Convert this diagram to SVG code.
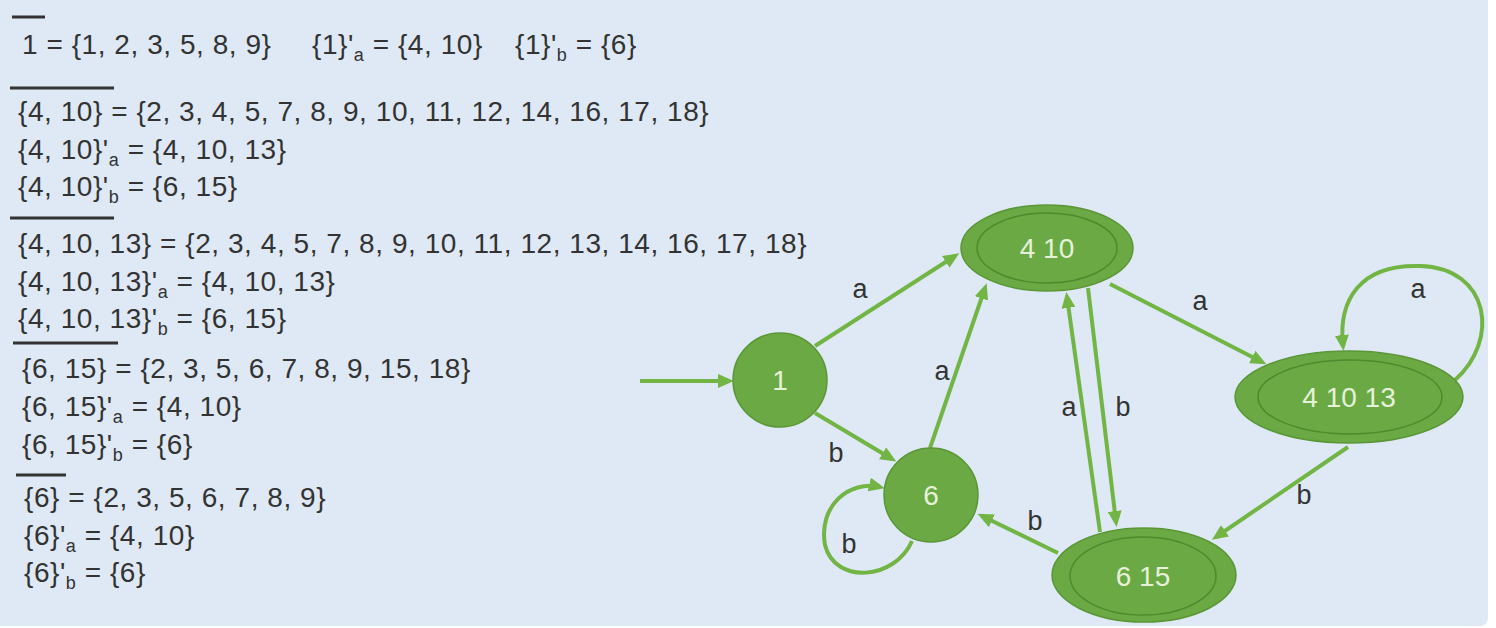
<svg xmlns="http://www.w3.org/2000/svg" width="1496" height="628" viewBox="0 0 1496 628">
  <style>
    .eq { font-family: "Liberation Sans", Arial, sans-serif; font-size: 28px; fill: #333; letter-spacing: 0.55px; }
    .sub { font-size: 18px; }
    .bar { stroke: #333; stroke-width: 3; }
    .node { fill: #6aa944; stroke: #5b9636; stroke-width: 1.5; }
    .inner { fill: none; stroke: #4f8a2e; stroke-width: 1.5; }
    .nlabel { font-family: "Liberation Sans", Arial, sans-serif; font-size: 28px; fill: #e6f1da; text-anchor: middle; }
    .edge { fill: none; stroke: #72b545; stroke-width: 4; marker-end: url(#arrow); }
    .elabel { font-family: "Liberation Sans", Arial, sans-serif; font-size: 27px; fill: #333; text-anchor: middle; }
  </style>
  <defs>
    <marker id="arrow" markerUnits="userSpaceOnUse" viewBox="0 0 16 14" markerWidth="16" markerHeight="14" refX="11" refY="7" orient="auto">
      <path d="M0,0 L16,7 L0,14 z" fill="#72b545"/>
    </marker>
  </defs>

  <!-- page -->
  <rect x="0" y="0" width="1496" height="628" fill="#ffffff"/>
  <rect x="-10" y="-10" width="1498" height="636" rx="8" fill="#dee9f5"/>

  <!-- closure computations -->
  <g id="equations">
    <line class="bar" x1="12" y1="17" x2="45" y2="17"/>
    <text class="eq" x="22" y="54">1 = {1, 2, 3, 5, 8, 9}</text>
    <text class="eq" x="312" y="54">{1}'<tspan class="sub" dy="7">a</tspan><tspan dy="-7"> = {4, 10}</tspan></text>
    <text class="eq" x="515" y="54">{1}'<tspan class="sub" dy="7">b</tspan><tspan dy="-7"> = {6}</tspan></text>

    <line class="bar" x1="10" y1="88" x2="114" y2="88"/>
    <text class="eq" x="18" y="121">{4, 10} = {2, 3, 4, 5, 7, 8, 9, 10, 11, 12, 14, 16, 17, 18}</text>
    <text class="eq" x="18" y="159">{4, 10}'<tspan class="sub" dy="7">a</tspan><tspan dy="-7"> = {4, 10, 13}</tspan></text>
    <text class="eq" x="18" y="196">{4, 10}'<tspan class="sub" dy="7">b</tspan><tspan dy="-7"> = {6, 15}</tspan></text>

    <line class="bar" x1="10" y1="218" x2="114" y2="218"/>
    <text class="eq" x="18" y="253">{4, 10, 13} = {2, 3, 4, 5, 7, 8, 9, 10, 11, 12, 13, 14, 16, 17, 18}</text>
    <text class="eq" x="18" y="291">{4, 10, 13}'<tspan class="sub" dy="7">a</tspan><tspan dy="-7"> = {4, 10, 13}</tspan></text>
    <text class="eq" x="18" y="328">{4, 10, 13}'<tspan class="sub" dy="7">b</tspan><tspan dy="-7"> = {6, 15}</tspan></text>

    <line class="bar" x1="13" y1="343" x2="118" y2="343"/>
    <text class="eq" x="22" y="378">{6, 15} = {2, 3, 5, 6, 7, 8, 9, 15, 18}</text>
    <text class="eq" x="22" y="416">{6, 15}'<tspan class="sub" dy="7">a</tspan><tspan dy="-7"> = {4, 10}</tspan></text>
    <text class="eq" x="22" y="454">{6, 15}'<tspan class="sub" dy="7">b</tspan><tspan dy="-7"> = {6}</tspan></text>

    <line class="bar" x1="16" y1="475" x2="66" y2="475"/>
    <text class="eq" x="24" y="507">{6} = {2, 3, 5, 6, 7, 8, 9}</text>
    <text class="eq" x="24" y="545">{6}'<tspan class="sub" dy="7">a</tspan><tspan dy="-7"> = {4, 10}</tspan></text>
    <text class="eq" x="24" y="582">{6}'<tspan class="sub" dy="7">b</tspan><tspan dy="-7"> = {6}</tspan></text>
  </g>

  <!-- transitions -->
  <g id="edges">
    <path class="edge" d="M640,381 L729,381"/>
    <path class="edge" d="M815,346 L955,256"/>
    <path class="edge" d="M815,413 L892,459"/>
    <path class="edge" d="M930,448 L985,288"/>
    <path class="edge" d="M1100,532 L1067,297"/>
    <path class="edge" d="M1088,288 L1116,522"/>
    <path class="edge" d="M1110,284 L1262,362"/>
    <path class="edge" d="M1455,380 C1500,340 1490,268 1420,266 C1360,264 1338,300 1343,346"/>
    <path class="edge" d="M1348,447 L1216,537"/>
    <path class="edge" d="M1058,553 L982,516"/>
    <path class="edge" d="M912,541 C895,580 835,585 825,545 C818,505 850,480 880,487"/>

    <text class="elabel" x="860" y="298">a</text>
    <text class="elabel" x="836" y="462">b</text>
    <text class="elabel" x="942" y="380">a</text>
    <text class="elabel" x="1069" y="416">a</text>
    <text class="elabel" x="1123" y="416">b</text>
    <text class="elabel" x="1200" y="310">a</text>
    <text class="elabel" x="1418" y="298">a</text>
    <text class="elabel" x="1304" y="504">b</text>
    <text class="elabel" x="1035" y="530">b</text>
    <text class="elabel" x="849" y="553">b</text>
  </g>

  <!-- states -->
  <g id="node-1">
    <circle class="node" cx="780" cy="380" r="47"/>
    <text class="nlabel" x="780" y="390">1</text>
  </g>
  <g id="node-6">
    <circle class="node" cx="931" cy="495" r="47"/>
    <text class="nlabel" x="931" y="505">6</text>
  </g>
  <g id="node-4-10">
    <ellipse class="node" cx="1047" cy="248" rx="86" ry="43"/>
    <ellipse class="inner" cx="1047" cy="248" rx="70" ry="35"/>
    <text class="nlabel" x="1047" y="258">4 10</text>
  </g>
  <g id="node-4-10-13">
    <ellipse class="node" cx="1349" cy="397" rx="114" ry="46"/>
    <ellipse class="inner" cx="1350" cy="397" rx="92" ry="37"/>
    <text class="nlabel" x="1349" y="407">4 10 13</text>
  </g>
  <g id="node-6-15">
    <ellipse class="node" cx="1144" cy="575" rx="92" ry="47"/>
    <ellipse class="inner" cx="1143" cy="576" rx="73" ry="39"/>
    <text class="nlabel" x="1143" y="586">6 15</text>
  </g>
</svg>
